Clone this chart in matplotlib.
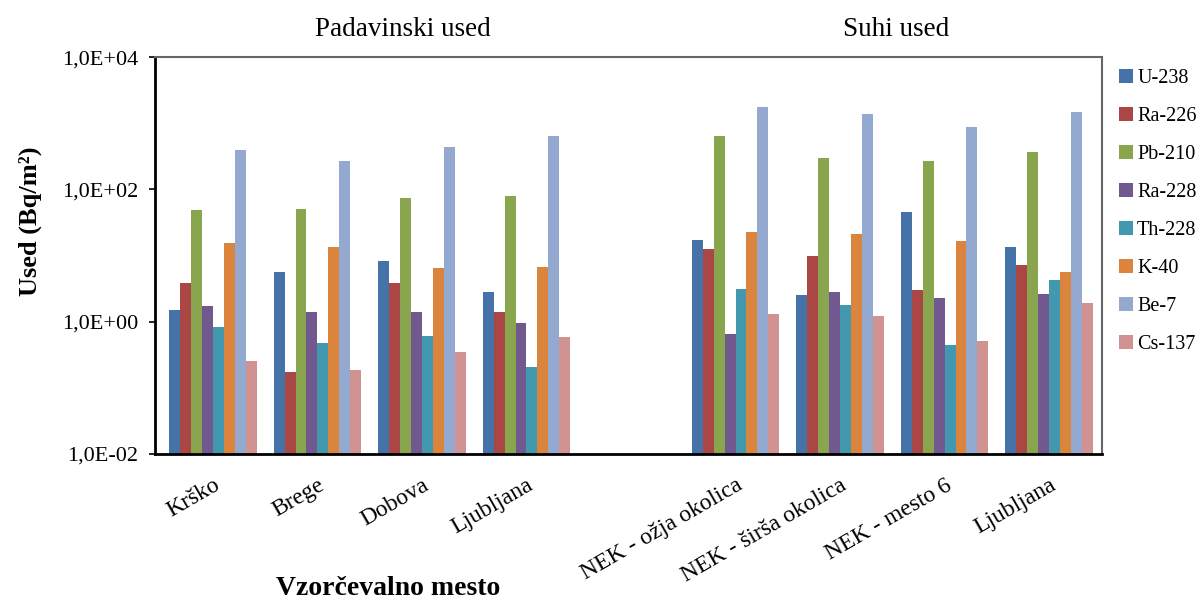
import numpy as np
import matplotlib
matplotlib.use("Agg")
from matplotlib import pyplot as plt
from matplotlib.ticker import FixedLocator, FuncFormatter, NullLocator

plt.rcParams['font.family'] = ['Liberation Serif', 'DejaVu Serif']

# sampling sites (5th slot is the empty gap between the two groups)
sites = ["Krško", "Brege", "Dobova", "Ljubljana", "",
         "NEK - ožja okolica", "NEK - širša okolica", "NEK - mesto 6", "Ljubljana"]
nuclides = ["U-238", "Ra-226", "Pb-210", "Ra-228", "Th-228", "K-40", "Be-7", "Cs-137"]

nan = np.nan
u238  = [1.5, 5.6, 8.2, 2.8, nan, 17.4, 2.5, 45, 13.5]
ra226 = [3.85, 0.172, 3.85, 1.4, nan, 12.7, 9.8, 3.0, 7.2]
pb210 = [48, 51, 75, 80, nan, 640, 300, 265, 365]
ra228 = [1.7, 1.4, 1.4, 0.95, nan, 0.65, 2.8, 2.3, 2.6]
th228 = [0.84, 0.47, 0.61, 0.21, nan, 3.15, 1.8, 0.45, 4.3]
k40   = [15.5, 13.5, 6.4, 6.8, nan, 22.6, 21, 16.5, 5.6]
be7   = [390, 265, 440, 645, nan, 1770, 1360, 885, 1460]
cs137 = [0.254, 0.185, 0.35, 0.58, nan, 1.31, 1.23, 0.51, 1.9]

series = [u238, ra226, pb210, ra228, th228, k40, be7, cs137]
colors = ['#4572A7', '#AA4643', '#89A54E', '#71588F',
          '#4198AF', '#DB843D', '#93A9CF', '#D19392']


fig = plt.figure(figsize=(12.01, 6.01), dpi=100)
ax = fig.add_axes([0.129, 0.2446, 0.7886, 0.6604])

x = np.arange(len(sites))
w = 0.105
for i, (vals, c) in enumerate(zip(series, colors)):
    ax.bar(x + (i - 3.5) * w, vals, w, color=c, label=nuclides[i], linewidth=0)

ax.set_yscale('log')
ax.set_ylim(1e-2, 1e4)
ax.set_xlim(-0.555, 8.507)
ax.yaxis.set_major_locator(FixedLocator([1e-2, 1e0, 1e2, 1e4]))
ax.yaxis.set_minor_locator(NullLocator())
ax.yaxis.set_major_formatter(FuncFormatter(lambda v, _: ('%.1E' % v).replace('.', ',')))
ax.tick_params(axis='y', direction='out', length=4, width=1.2, labelsize=16, pad=8)

ax.set_xticks(x)
ax.set_xticklabels(sites, rotation=30, ha='right', va='top', rotation_mode='anchor', fontsize=17)
ax.tick_params(axis='x', length=0, pad=15)

for s in ['left', 'bottom']:
    ax.spines[s].set_color('black')
    ax.spines[s].set_linewidth(2)
for s in ['top', 'right']:
    ax.spines[s].set_color('#666666')
    ax.spines[s].set_linewidth(1.5)

ax.set_ylabel("Used (Bq/m²)", fontsize=19, fontweight='bold')
ax.yaxis.set_label_coords(-0.119, 0.587)
ax.set_xlabel("Vzorčevalno mesto", fontsize=20, fontweight='bold', va='center')
ax.xaxis.set_label_coords(0.246, -0.34)

ax.text(0.262, 1.07, "Padavinski used", transform=ax.transAxes, ha='center', va='center', fontsize=19.5)
ax.text(0.783, 1.07, "Suhi used", transform=ax.transAxes, ha='center', va='center', fontsize=19.5)

fig.legend(loc='upper left', bbox_to_anchor=(1119 / 1201, 1 - 69 / 601), frameon=False,
           fontsize=14.5, handlelength=0.7, handleheight=0.7, handletextpad=0.2,
           labelspacing=0.94, borderpad=0, borderaxespad=0)

fig.savefig("out.png", dpi=100)
